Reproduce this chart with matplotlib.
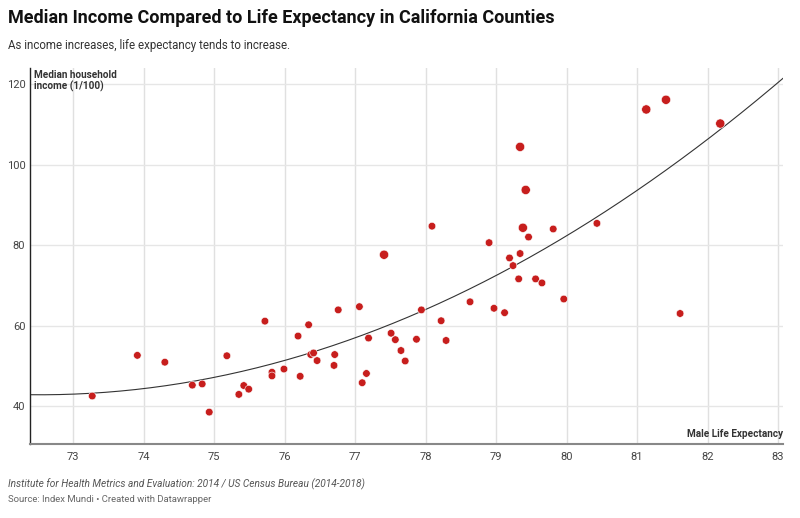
import numpy as np
import matplotlib
matplotlib.use('Agg')
from matplotlib import pyplot as plt

plt.rcParams['font.family'] = ['Roboto', 'DejaVu Sans']

# male life expectancy vs median household income (1/100), one point per county
life_exp = [73.27, 73.91, 74.30, 74.69, 74.83, 74.93, 75.18, 75.35, 75.42, 75.49,
            75.72, 75.82, 75.82, 75.99, 76.19, 76.22, 76.34, 76.37, 76.41, 76.46,
            76.71, 76.70, 76.76, 77.06, 77.10, 77.16, 77.19, 77.41, 77.51, 77.57,
            77.65, 77.71, 77.87, 77.94, 78.22, 78.29, 78.63, 78.97, 79.12, 79.19,
            79.24, 79.32, 79.34, 79.56, 79.65, 79.96, 81.61, 78.09, 78.90, 79.34,
            79.42, 79.38, 79.46, 79.81, 80.43, 81.13, 81.41, 82.18]
income = [42.5, 52.6, 50.9, 45.2, 45.5, 38.5, 52.5, 42.9, 45.1, 44.2,
          61.1, 48.4, 47.5, 49.2, 57.4, 47.4, 60.2, 52.8, 53.2, 51.3,
          52.8, 50.1, 63.9, 64.7, 45.8, 48.1, 56.9, 77.6, 58.1, 56.5,
          53.8, 51.2, 56.6, 63.9, 61.2, 56.3, 65.9, 64.3, 63.2, 76.8,
          74.9, 71.6, 77.9, 71.6, 70.6, 66.6, 63.0, 84.7, 80.6, 104.4,
          93.7, 84.3, 82.0, 84.0, 85.4, 113.7, 116.1, 110.2]
# larger counties drawn with a bigger dot
big = [0] * 58
for i in [27, 49, 50, 51, 55, 56, 57]:
    big[i] = 1

x_ticks = list(range(73, 84))
y_ticks = [40, 60, 80, 100, 120]

W, H = 800, 518
fig = plt.figure(figsize=(W / 100, H / 100), dpi=100)
ax = fig.add_axes([29.5 / W, 1 - 443.5 / H, (783 - 29.5) / W, (443.5 - 68) / H])

ax.set_xlim(72.38, 83.07)
ax.set_ylim(30.7, 124)

# grid
for t in x_ticks:
    ax.axvline(t, color='#e0e0e0', lw=1, zorder=0)
for t in y_ticks:
    ax.axhline(t, color='#e6e6e6', lw=1, zorder=0)

# quadratic trend line
coef = np.polyfit(life_exp, income, 2)
xs = np.linspace(72.38, 83.07, 200)
ax.plot(xs, np.polyval(coef, xs), color='#333333', lw=0.8, zorder=2)

sizes = [44 if b else 30 for b in big]
ax.scatter(life_exp, income, s=sizes, color='#c71e1d', edgecolor='white',
           linewidth=0.4, zorder=3)

ax.set_xticks(x_ticks)
ax.set_yticks(y_ticks)
ax.tick_params(length=0, labelsize=8, colors='#444444', pad=6)
ax.tick_params(axis='y', pad=3)
for s in ['top', 'right']:
    ax.spines[s].set_visible(False)
ax.spines['left'].set_color('#222222')
ax.spines['left'].set_linewidth(1)
ax.spines['bottom'].set_color('#888888')
ax.spines['bottom'].set_linewidth(1.5)

ax.text(0.006, 0.995, 'Median household\nincome (1/100)', transform=ax.transAxes,
        ha='left', va='top', fontsize=7.2, fontweight='bold', color='#333333',
        linespacing=1.15)
ax.text(1.0, 0.012, 'Male Life Expectancy', transform=ax.transAxes,
        ha='right', va='bottom', fontsize=7.2, fontweight='bold', color='#333333')

fig.text(8 / W, 1 - 18 / H, 'Median Income Compared to Life Expectancy in California Counties',
         ha='left', va='center', fontsize=13, fontweight='bold', color='#111111')
fig.text(8 / W, 1 - 45 / H, 'As income increases, life expectancy tends to increase.',
         ha='left', va='center', fontsize=8.3, color='#333333')
fig.text(8 / W, 1 - 484 / H,
         'Institute for Health Metrics and Evaluation: 2014 / US Census Bureau (2014-2018)',
         ha='left', va='center', fontsize=7.3, style='italic', color='#555555')
fig.text(8 / W, 1 - 500 / H, 'Source: Index Mundi \u2022 Created with Datawrapper',
         ha='left', va='center', fontsize=6.8, color='#666666')

fig.savefig('out.png', dpi=100)
